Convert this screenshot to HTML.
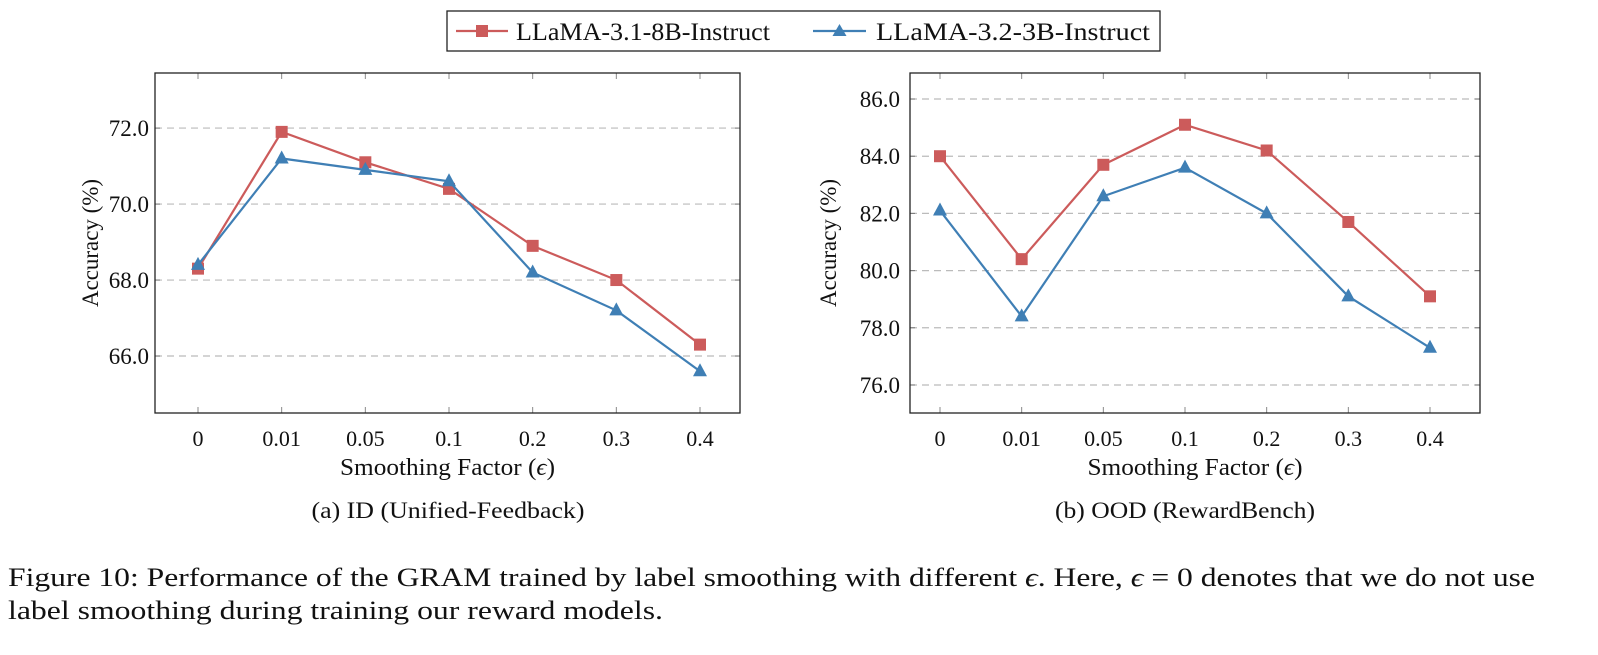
<!DOCTYPE html>
<html><head><meta charset="utf-8"><style>
body{margin:0;background:#fff;width:1598px;height:650px;overflow:hidden}
svg{font-family:"Liberation Serif",serif}
</style></head><body>
<svg id="fig" width="1598" height="650" viewBox="0 0 1598 650">
<g>
<rect x="447" y="11" width="713" height="40" fill="#fff" stroke="#222" stroke-width="1.3"/>
<g>
<line x1="456" y1="31" x2="508" y2="31" stroke="#cc5b5b" stroke-width="2.2"/>
<rect x="476" y="25" width="12" height="12" fill="#cc5b5b"/>
<text x="516" y="40" font-size="25" fill="#111" textLength="254" lengthAdjust="spacingAndGlyphs">LLaMA-3.1-8B-Instruct</text>
</g>
<g>
<line x1="813" y1="31" x2="866" y2="31" stroke="#3f7fb5" stroke-width="2.2"/>
<polygon points="839.5,24 846.5,36 832.5,36" fill="#3f7fb5"/>
<text x="876" y="40" font-size="25" fill="#111" textLength="274" lengthAdjust="spacingAndGlyphs">LLaMA-3.2-3B-Instruct</text>
</g>
</g>
<g id="left"></g>
<g id="right"></g>
<text x="448" y="518" font-size="23" text-anchor="middle" fill="#111" textLength="273" lengthAdjust="spacingAndGlyphs">(a) ID (Unified-Feedback)</text>
<text x="1185" y="518" font-size="23" text-anchor="middle" fill="#111" textLength="260" lengthAdjust="spacingAndGlyphs">(b) OOD (RewardBench)</text>
<text x="8" y="586" font-size="26" fill="#111" textLength="1527" lengthAdjust="spacingAndGlyphs">Figure 10: Performance of the GRAM trained by label smoothing with different <tspan font-style="italic">ϵ</tspan>. Here, <tspan font-style="italic">ϵ</tspan> = 0 denotes that we do not use</text>
<text x="8" y="619" font-size="26" fill="#111" textLength="655" lengthAdjust="spacingAndGlyphs">label smoothing during training our reward models.</text>
</svg>
<script>
const categories = ["0","0.01","0.05","0.1","0.2","0.3","0.4"];
const idRed = [68.3,71.9,71.1,70.4,68.9,68.0,66.3];
const idBlue = [68.4,71.2,70.9,70.6,68.2,67.2,65.6];
const oodRed = [84.0,80.4,83.7,85.1,84.2,81.7,79.1];
const oodBlue = [82.1,78.4,82.6,83.6,82.0,79.1,77.3];
const idTicks = [66,68,70,72];
const oodTicks = [76,78,80,82,84,86];
const NS="http://www.w3.org/2000/svg";
function mk(p,tag,attrs){const e=document.createElementNS(NS,tag);for(const k in attrs)e.setAttribute(k,attrs[k]);p.appendChild(e);return e;}
function draw(g,box,ymin,ymax,ticks,red,blue,x0,x1,tickGap,yTitleX){
  const xs=i=>x0+(x1-x0)*i/(categories.length-1);
  const ys=v=>box.b-(v-ymin)/(ymax-ymin)*(box.b-box.t);
  ticks.forEach(t=>{
    const l=mk(g,'line',{x1:box.l,x2:box.r,y1:ys(t),y2:ys(t),stroke:'#bbb','stroke-width':1.2,'stroke-dasharray':'7,5'});
    
    
    mk(g,'line',{x1:box.l,x2:box.l+5,y1:ys(t),y2:ys(t),stroke:'#777'});
    mk(g,'line',{x1:box.r-5,x2:box.r,y1:ys(t),y2:ys(t),stroke:'#777'});
    const tx=mk(g,'text',{x:box.l-tickGap,y:ys(t)+8,'font-size':23,'text-anchor':'end',fill:'#111'});
    tx.textContent=t.toFixed(1);
    
    
  });
  categories.forEach((c,i)=>{
    mk(g,'line',{x1:xs(i),x2:xs(i),y1:box.t,y2:box.t+6,stroke:'#888'});
    mk(g,'line',{x1:xs(i),x2:xs(i),y1:box.b-6,y2:box.b,stroke:'#888'});
    const tx=mk(g,'text',{x:xs(i),y:box.b+33,'font-size':22,'text-anchor':'middle',fill:'#111'});
    tx.textContent=c;
    
    
  });
  const fr=mk(g,'rect',{x:box.l,y:box.t,width:box.r-box.l,height:box.b-box.t,fill:'none',stroke:'#222','stroke-width':1.3});
  
  
  const xt=mk(g,'text',{x:(box.l+box.r)/2,y:box.b+62,'font-size':24,'text-anchor':'middle',fill:'#111',textLength:215,lengthAdjust:'spacingAndGlyphs'});
  xt.innerHTML='Smoothing Factor (<tspan font-style="italic">ϵ</tspan>)';
  
  
  const cy=(box.t+box.b)/2, cx=yTitleX;
  const yt=mk(g,'text',{x:cx,y:cy,'font-size':23,'text-anchor':'middle',fill:'#111',transform:`rotate(-90 ${cx} ${cy})`,textLength:128,lengthAdjust:'spacingAndGlyphs'});
  yt.textContent='Accuracy (%)';
  
  
  [[red,'#cc5b5b','sq'],[blue,'#3f7fb5','tri']].forEach(([d,col,m])=>{
    const pl=mk(g,'polyline',{points:d.map((v,i)=>xs(i)+','+ys(v)).join(' '),fill:'none',stroke:col,'stroke-width':2.2});
    
    
    d.forEach((v,i)=>{
      const x=xs(i),y=ys(v);let e;
      if(m==='sq') e=mk(g,'rect',{x:x-6,y:y-6,width:12,height:12,fill:col});
      else e=mk(g,'polygon',{points:`${x},${y-8} ${x+7},${y+5} ${x-7},${y+5}`,fill:col});
      
      
    });
  });
}
draw(document.getElementById('left'),{l:155,r:740,t:73,b:413},64.5,73.45,idTicks,idRed,idBlue,198,700,6,98);
draw(document.getElementById('right'),{l:910,r:1480,t:73,b:413},75.02,86.91,oodTicks,oodRed,oodBlue,940,1430,10,836);
</script>
</body></html>
